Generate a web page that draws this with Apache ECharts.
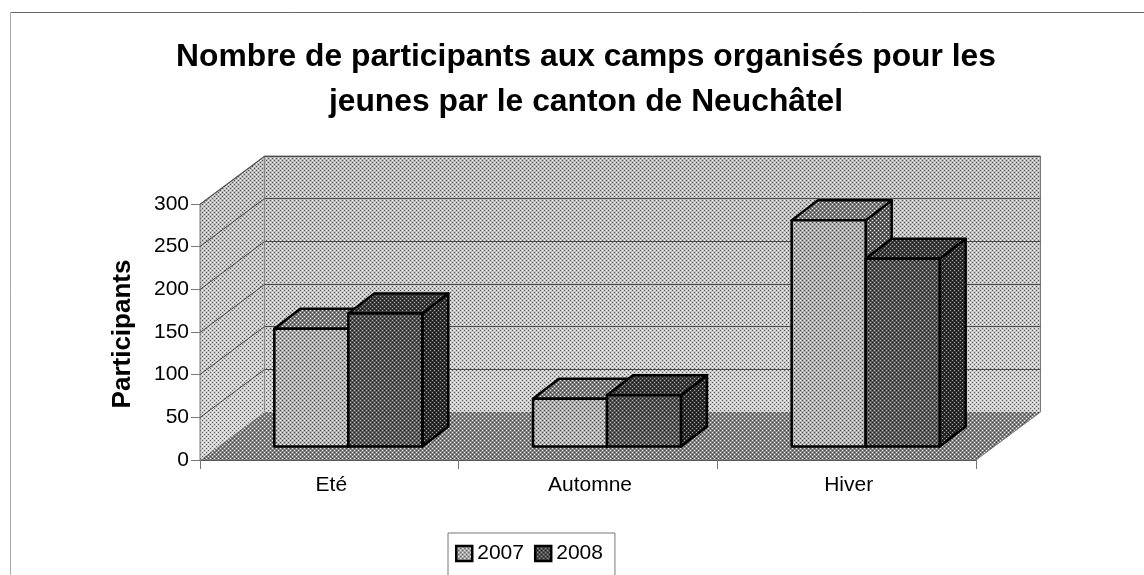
<!DOCTYPE html>
<html>
<head>
<meta charset="utf-8">
<style>html,body{margin:0;padding:0;background:#fff;overflow:hidden}#c{width:1144px;height:575px}</style>
<script src="https://cdn.jsdelivr.net/npm/echarts@6/dist/echarts.min.js"></script>
</head>
<body>
<div id="c"></div>
<script>
const titleLines = ['Nombre de participants aux camps organisés pour les', 'jeunes par le canton de Neuchâtel'];
const categories = ['Eté', 'Automne', 'Hiver'];
const years = ['2007', '2008'];
const values2007 = [138, 56, 265];
const values2008 = [156, 60, 220];
const yTicks = [0, 50, 100, 150, 200, 250, 300];
const yName = 'Participants';

const FONT = '"Liberation Sans", Arial, sans-serif';
const DEPTH = [64.5, -48];
const BAR_FRONT = [19, -13.5];
const BAR_DEPTH = [26, -20];
const BAR_BAND = 0.286;

function tile(base, hi, lo) {
  const c = document.createElement('canvas');
  c.width = c.height = 4;
  const g = c.getContext('2d');
  if (base) { g.fillStyle = base; g.fillRect(0, 0, 4, 4); }
  g.fillStyle = hi; g.fillRect(0, 0, 1, 1); g.fillRect(2, 2, 1, 1);
  g.fillStyle = lo; g.fillRect(2, 0, 1, 1); g.fillRect(0, 2, 1, 1);
  return { image: c, repeat: 'repeat' };
}
const overlay = tile(null, 'rgba(255,255,255,0.85)', 'rgba(0,0,0,0.55)');
const overlayDark = tile(null, 'rgba(255,255,255,0.55)', 'rgba(0,0,0,0.7)');
const lg = (a, b) => ({ type: 'linear', x: 0, y: 0, x2: 0, y2: 1, colorStops: [{ offset: 0, color: a }, { offset: 1, color: b }] });

const faces = {
  '2007': { front: lg('#a8a8a8', '#b2b2b2'), side: lg('#606060', '#545454'), top: '#7c7c7c', tex: overlay },
  '2008': { front: lg('#505050', '#5e5e5e'), side: lg('#323232', '#2c2c2c'), top: '#3c3c3c', tex: overlayDark }
};

function textured(points, fill, tex, line, lw) {
  const out = [{ type: 'polygon', shape: { points }, style: { fill } },
               { type: 'polygon', shape: { points }, style: { fill: tex } }];
  if (line) out.push({ type: 'polygon', shape: { points }, style: { fill: 'none', stroke: line, lineWidth: lw, lineJoin: 'round' } });
  return out;
}

function renderWalls(params, api) {
  const r = params.coordSys;
  const x0 = r.x, x1 = r.x + r.width, yb = r.y + r.height, yt = r.y;
  const [dx, dy] = DEPTH;
  const kids = [];
  const edge = '#777';
  kids.push(...textured([[x0 + dx, yt + dy], [x1 + dx, yt + dy], [x1 + dx, yb + dy], [x0 + dx, yb + dy]], lg('#b8b8b8', '#cccccc'), overlay));
  kids.push(...textured([[x0, yt], [x0 + dx, yt + dy], [x0 + dx, yb + dy], [x0, yb]], lg('#b8b8b8', '#d2d2d2'), overlay));
  kids.push(...textured([[x0, yb], [x0 + dx, yb + dy], [x1 + dx, yb + dy], [x1, yb]], '#848484', overlay));
  kids.push({ type: 'polyline', shape: { points: [[x0, yb], [x0, yt], [x0 + dx, yt + dy], [x1 + dx, yt + dy], [x1 + dx, yb + dy], [x1, yb]] }, style: { fill: 'none', stroke: edge, lineWidth: 1 } });
  kids.push({ type: 'line', shape: { x1: x0 + dx, y1: yt + dy, x2: x0 + dx, y2: yb + dy }, style: { stroke: '#888', lineWidth: 1 } });
  return { type: 'group', children: kids };
}

function renderGridline(params, api) {
  const r = params.coordSys;
  const p = api.coord([0, api.value(1)]);
  const y = Math.floor(p[1]) + 0.5;
  const [dx, dy] = DEPTH;
  return { type: 'polyline', shape: { points: [[r.x, y], [r.x + dx, y + dy], [r.x + r.width + dx, y + dy]] }, style: { fill: 'none', stroke: '#4a4a4a', lineWidth: 1 } };
}

function makeBars(year, order) {
  return function (params, api) {
    const p = api.coord([api.value(0), api.value(1)]);
    const base = api.coord([api.value(0), 0]);
    const w = api.size([1, 0])[0] * BAR_BAND;
    const l = p[0] + (order - 1) * w + BAR_FRONT[0];
    const rx = l + w;
    const t = p[1] + BAR_FRONT[1];
    const b = base[1] + BAR_FRONT[1];
    const [ddx, ddy] = BAR_DEPTH;
    const f = faces[year];
    const kids = [];
    kids.push(...textured([[rx, t], [rx + ddx, t + ddy], [rx + ddx, b + ddy], [rx, b]], f.side, f.tex, '#000', 2.5));
    kids.push(...textured([[l, t], [l + ddx, t + ddy], [rx + ddx, t + ddy], [rx, t]], f.top, f.tex, '#000', 2.5));
    kids.push(...textured([[l, t], [rx, t], [rx, b], [l, b]], f.front, f.tex, '#000', 2.5));
    return { type: 'group', children: kids };
  };
}

const legendTex = { '2007': tile('#a8a8a8', '#f0f0f0', '#555'), '2008': tile('#505050', '#999', '#181818') };

const chart = echarts.init(document.getElementById('c'), null, { renderer: 'canvas' });
chart.setOption({
  animation: false,
  backgroundColor: '#fff',
  textStyle: { fontFamily: FONT },
  title: {
    text: titleLines.join('\n'), left: 581, top: 30, textAlign: 'center',
    textStyle: { fontFamily: FONT, fontWeight: 'bold', fontSize: 31.8, lineHeight: 45, color: '#000' }
  },
  grid: { left: 200, right: 168, top: 204, bottom: 115, containLabel: false },
  xAxis: {
    type: 'category', data: categories,
    axisLine: { show: true, lineStyle: { color: '#555', width: 1 } },
    axisTick: { show: true, alignWithLabel: false, length: 9, lineStyle: { color: '#777' } },
    axisLabel: { fontSize: 21, color: '#000', margin: 15, fontFamily: FONT, padding: [0, 0, 0, 4] },
    splitLine: { show: false }
  },
  yAxis: {
    type: 'value', min: 0, max: 300, interval: 50,
    name: yName, nameLocation: 'middle', nameRotate: 90, nameGap: 64,
    nameTextStyle: { fontFamily: FONT, fontWeight: 'bold', fontSize: 26, color: '#000', padding: [0, 4, 0, 0] },
    axisLine: { show: true, lineStyle: { color: '#666' } },
    axisTick: { show: true, length: 9, lineStyle: { color: '#777' } },
    axisLabel: { fontSize: 21, color: '#000', margin: 11, fontFamily: FONT },
    splitLine: { show: false }
  },
  legend: {
    left: 448, top: 533, orient: 'horizontal', icon: 'rect',
    itemWidth: 16, itemHeight: 15, itemGap: 10,
    padding: [10, 12, 40, 7], backgroundColor: '#fff', borderColor: '#777', borderWidth: 1,
    textStyle: { fontSize: 21, color: '#000', fontFamily: FONT, padding: [0, 0, 0, 0] },
    data: years.map(y => ({ name: y, icon: 'rect', itemStyle: { color: legendTex[y], borderColor: '#000', borderWidth: 2.5 } }))
  },
  graphic: [
    { type: 'line', silent: true, shape: { x1: 10, y1: 12.5, x2: 1144, y2: 12.5 }, style: { stroke: '#666', lineWidth: 1 } },
    { type: 'line', silent: true, shape: { x1: 10.5, y1: 12, x2: 10.5, y2: 575 }, style: { stroke: '#aaa', lineWidth: 1 } }
  ],
  series: [
    { type: 'custom', name: 'walls', clip: false, silent: true, z: 1, data: [[0, 0]], encode: { x: 0, y: 1 }, renderItem: renderWalls },
    { type: 'custom', name: 'grid', clip: false, silent: true, z: 2, data: yTicks.slice(1).map(v => [0, v]), encode: { x: 0, y: 1 }, renderItem: renderGridline },
    { type: 'custom', name: years[0], clip: false, z: 3, data: values2007.map((v, i) => [i, v]), encode: { x: 0, y: 1 }, renderItem: makeBars('2007', 0) },
    { type: 'custom', name: years[1], clip: false, z: 4, data: values2008.map((v, i) => [i, v]), encode: { x: 0, y: 1 }, renderItem: makeBars('2008', 1) }
  ]
});
</script>
</body>
</html>
